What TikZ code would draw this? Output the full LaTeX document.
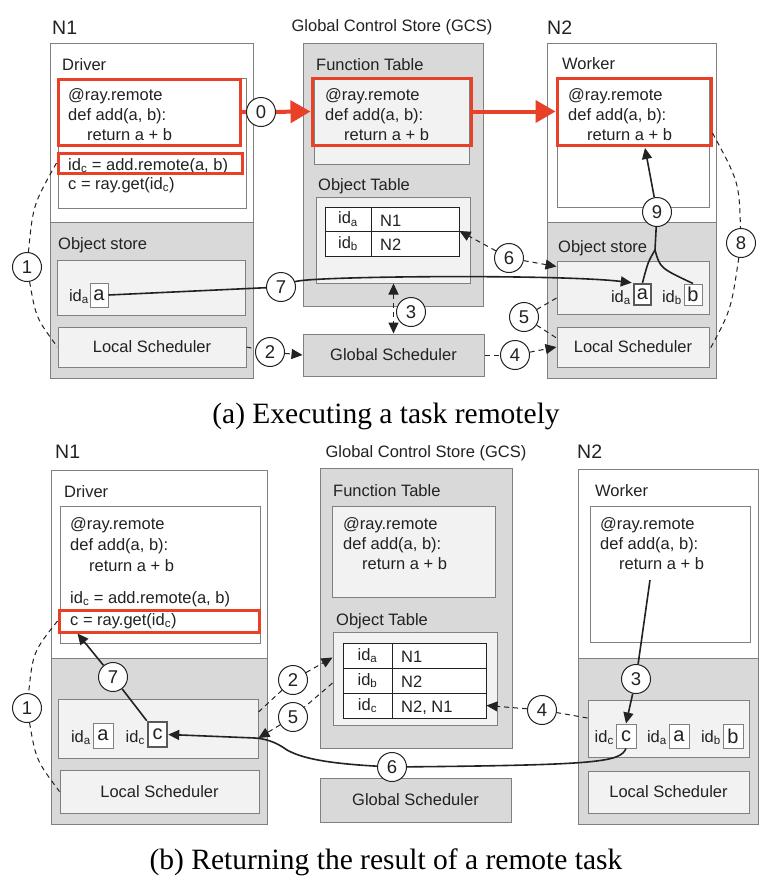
\documentclass[tikz,border=0pt]{standalone}
\usepackage{fontspec}
\setmainfont{Liberation Sans}
\newfontfamily\captionserif{Liberation Serif}
\usetikzlibrary{arrows.meta,fit}
\definecolor{rayred}{RGB}{232,65,40}
\definecolor{edgegray}{RGB}{128,128,128}
\definecolor{storegray}{RGB}{217,217,217}
\definecolor{panegray}{RGB}{242,242,242}
\definecolor{inkgray}{RGB}{34,34,34}

\begin{document}
\begin{tikzpicture}[x=1pt, y=-1pt,
    hostbox/.style={draw=edgegray, line width=1pt, fill=white, inner sep=0pt},
    storebox/.style={hostbox, fill=storegray},
    panebox/.style={hostbox, fill=panegray},
    redbox/.style={draw=rayred, line width=3pt, inner sep=0pt},
    lbl/.style={anchor=base west, inner sep=0pt, font=\fontsize{16.5}{20}\selectfont, text=inkgray},
    boxtext/.style={inner sep=0pt, font=\fontsize{16.5}{20}\selectfont, text=inkgray},
    valtext/.style={inner sep=0pt, font=\fontsize{20}{20}\selectfont, text=inkgray},
    nodename/.style={lbl, font=\fontsize{19.5}{20}\selectfont},
    cell/.style={draw=inkgray, line width=1pt, fill=white, inner sep=0pt},
    objval/.style={draw=edgegray, line width=1pt, fill=white, inner sep=0pt},
    objhot/.style={objval, draw=black!65, line width=2.5pt},
    stepnum/.style={circle, draw=inkgray, line width=1pt, fill=white, minimum size=29pt, inner sep=0pt, font=\fontsize{18.5}{18}\selectfont, text=inkgray},
    flow/.style={draw=inkgray, line width=1.6pt},
    ctrl/.style={draw=inkgray, line width=1pt, dash pattern=on 5pt off 4pt},
    arrowhd/.style={-{Triangle[length=11pt,width=10pt]}},
    bothhd/.style={{Triangle[length=11pt,width=10pt]}-{Triangle[length=11pt,width=10pt]}},
    redflow/.style={draw=rayred, line width=4pt},
    redhd/.style={-{Triangle[length=20pt,width=22pt]}},
    capt/.style={anchor=base, inner sep=0pt, font=\captionserif\fontsize{29.5}{30}\selectfont}
  ]
  \fill[white] (0,0) rectangle (773,894);
  \useasboundingbox (0,0) rectangle (773,894);

  % ---------------- (a) Executing a task remotely ----------------
  % node N1
  \node[nodename] (a-n1-name) at (52,34) {N1};
  \node[hostbox, fit={(50,43) (253,378)}] (a-n1) {};
  \node[storebox, fit={(50,222) (253,378)}] (a-n1-low) {};
  \node[lbl] (a-drv-name) at (62,70) {Driver};
  \node[hostbox, fit={(58,78) (246,208)}] (a-drv) {};
  \node[lbl] (a-os1-name) at (58,249) {Object store};
  \node[panebox, fit={(57,260) (245,315)}] (a-os1) {};
  \node[lbl, anchor=base east] (a-os1-ida) at (89,301) {id\textsubscript{a}};
  \node[objval, fit={(90,283) (108,307)}] (a-os1-a) {};
  \node[valtext] (a-os1-a-txt) at (a-os1-a) {a};
  \node[panebox, fit={(58,327) (246,367)}] (a-ls1) {};
  \node[boxtext] (a-ls1-txt) at (a-ls1) {Local Scheduler};

  % global control store
  \node[lbl, anchor=base] (a-gcs-name) at (392,31) {Global Control Store (GCS)};
  \node[storebox, fit={(303,43) (483,306)}] (a-gcs) {};
  \node[lbl] (a-ft-name) at (316,70) {Function Table};
  \node[panebox, fit={(314,78) (469,164)}] (a-ft) {};
  \node[lbl] (a-ot-name) at (318,190) {Object Table};
  \node[panebox, fit={(316,197) (470,283)}] (a-ot) {};
  \foreach \id/\host [count=\r] in {a/N1, b/N2} {
      \node[cell, fit={(325,{182.5+24.5*\r}) (371,{207+24.5*\r})}] (a-ot-\r-id) {};
      \node[boxtext] (a-ot-\r-idtxt) at (a-ot-\r-id) {id\textsubscript{\id}};
      \node[cell, fit={(371,{182.5+24.5*\r}) (459,{207+24.5*\r})}] (a-ot-\r-host) {};
      \node[lbl] (a-ot-\r-txt) at (380,{201.5+24.5*\r}) {\host};
  }
  \node[storebox, fit={(303,334) (484,376)}] (a-gs) {};
  \node[boxtext] (a-gs-txt) at (a-gs) {Global Scheduler};

  % node N2
  \node[nodename] (a-n2-name) at (547,34) {N2};
  \node[hostbox, fit={(547,43) (716,378)}] (a-n2) {};
  \node[storebox, fit={(547,222) (716,378)}] (a-n2-low) {};
  \node[lbl] (a-wrk-name) at (562,69) {Worker};
  \node[hostbox, fit={(557,78) (709,207)}] (a-wrk) {};
  \node[lbl] (a-os2-name) at (558,252) {Object store};
  \node[panebox, fit={(557,261) (709,314)}] (a-os2) {};
  \node[lbl, anchor=base east] (a-os2-ida) at (631,302) {id\textsubscript{a}};
  \node[objhot, fit={(634,284) (651,305)}] (a-os2-a) {};
  \node[valtext] (a-os2-a-txt) at (a-os2-a) {a};
  \node[lbl, anchor=base east] (a-os2-idb) at (682,302) {id\textsubscript{b}};
  \node[objval, fit={(684,284) (702,305)}] (a-os2-b) {};
  \node[valtext] (a-os2-b-txt) at (a-os2-b) {b};
  \node[panebox, fit={(557,327) (709,367)}] (a-ls2) {};
  \node[boxtext] (a-ls2-txt) at (a-ls2) {Local Scheduler};

  % ---------------- (b) Returning the result ----------------
  % node N1
  \node[nodename] (b-n1-name) at (55,458) {N1};
  \node[hostbox, fit={(51,470) (267,824)}] (b-n1) {};
  \node[storebox, fit={(51,658) (267,824)}] (b-n1-low) {};
  \node[lbl] (b-drv-name) at (64,497) {Driver};
  \node[hostbox, fit={(60,506) (260,643)}] (b-drv) {};
  \node[panebox, fit={(58,699) (258,758)}] (b-os1) {};
  \node[lbl, anchor=base east] (b-os1-ida) at (91,742) {id\textsubscript{a}};
  \node[objval, fit={(93,723) (113,748)}] (b-os1-a) {};
  \node[valtext] (b-os1-a-txt) at (b-os1-a) {a};
  \node[lbl, anchor=base east] (b-os1-idc) at (145,742) {id\textsubscript{c}};
  \node[objhot, fit={(148,722) (167,747)}] (b-os1-c) {};
  \node[valtext] (b-os1-c-txt) at (b-os1-c) {c};
  \node[panebox, fit={(60,770) (259,813)}] (b-ls1) {};
  \node[boxtext] (b-ls1-txt) at (b-ls1) {Local Scheduler};

  % global control store
  \node[lbl, anchor=base] (b-gcs-name) at (426,457) {Global Control Store (GCS)};
  \node[storebox, fit={(320,468) (512,748)}] (b-gcs) {};
  \node[lbl] (b-ft-name) at (333,496) {Function Table};
  \node[panebox, fit={(332,506) (495,597)}] (b-ft) {};
  \node[lbl] (b-ot-name) at (336,625) {Object Table};
  \node[panebox, fit={(333,632) (497,725)}] (b-ot) {};
  \foreach \id/\host [count=\r] in {a/N1, b/N2, c/{N2, N1}} {
      \node[cell, fit={(343,{618+25*\r}) (392,{643+25*\r})}] (b-ot-\r-id) {};
      \node[boxtext] (b-ot-\r-idtxt) at (b-ot-\r-id) {id\textsubscript{\id}};
      \node[cell, fit={(392,{618+25*\r}) (486,{643+25*\r})}] (b-ot-\r-host) {};
      \node[lbl] (b-ot-\r-txt) at (401,{637+25*\r}) {\host};
  }
  \node[storebox, fit={(320,778) (511,822)}] (b-gs) {};
  \node[boxtext] (b-gs-txt) at (b-gs) {Global Scheduler};

  % node N2
  \node[nodename] (b-n2-name) at (577,458) {N2};
  \node[hostbox, fit={(578,469) (758,824)}] (b-n2) {};
  \node[storebox, fit={(578,658) (758,824)}] (b-n2-low) {};
  \node[lbl] (b-wrk-name) at (595,496) {Worker};
  \node[hostbox, fit={(590,506) (750,642)}] (b-wrk) {};
  \node[panebox, fit={(588,700) (749,757)}] (b-os2) {};
  \node[lbl, anchor=base east] (b-os2-idc) at (614,742) {id\textsubscript{c}};
  \node[objval, fit={(616,724) (636,748)}] (b-os2-c) {};
  \node[valtext] (b-os2-c-txt) at (b-os2-c) {c};
  \node[lbl, anchor=base east] (b-os2-ida) at (667,742) {id\textsubscript{a}};
  \node[objval, fit={(669,724) (689,748)}] (b-os2-a) {};
  \node[valtext] (b-os2-a-txt) at (b-os2-a) {a};
  \node[lbl, anchor=base east] (b-os2-idb) at (721,742) {id\textsubscript{b}};
  \node[objval, fit={(723,724) (743,748)}] (b-os2-b) {};
  \node[valtext] (b-os2-b-txt) at (b-os2-b) {b};
  \node[panebox, fit={(588,771) (749,813)}] (b-ls2) {};
  \node[boxtext] (b-ls2-txt) at (b-ls2) {Local Scheduler};

  % the add function, six times
  \foreach \cx/\cy/\gap [count=\k] in {68/100/20, 325/100/20, 568/100/20, 70/529/21, 343/529/20, 600/529/20} {
      \node[lbl] (code-\k-1) at (\cx,\cy) {@ray.remote};
      \node[lbl] (code-\k-2) at (\cx,{\cy+\gap}) {def add(a, b):};
      \node[lbl] (code-\k-3) at ({\cx+19},{\cy+2*\gap}) {return a + b};
  }
  \node[lbl] (a-idc) at (68,170) {id\textsubscript{c} = add.remote(a, b)};
  \node[lbl] (a-get) at (68,189) {c = ray.get(id\textsubscript{c})};
  \node[lbl] (b-idc) at (70,603) {id\textsubscript{c} = add.remote(a, b)};
  \node[lbl] (b-get) at (70,625) {c = ray.get(id\textsubscript{c})};

  % highlighted code
  \node[redbox, fit={(58,79) (240,145)}] (red-drv) {};
  \node[redbox, fit={(58,153) (242,173)}] (red-idc) {};
  \node[redbox, fit={(312,78) (471,145)}] (red-ft) {};
  \node[redbox, fit={(557,78) (711,145)}] (red-wrk) {};
  \node[redbox, fit={(59,610) (259,632)}] (red-get) {};

  % step numbers
  \foreach \s/\px/\py in {0/261/112, 1/27/267, 2/270/352, 3/411/312, 4/515/355,
                          5/524/317, 6/509/258, 7/281/287, 8/741/243, 9/657/212}
      \node[stepnum] (a-s\s) at (\px,\py) {\s};
  \foreach \s/\px/\py in {1/27/708, 2/293/680, 3/636/679, 4/542/710,
                          5/293/717, 6/392/767, 7/113/677}
      \node[stepnum] (b-s\s) at (\px,\py) {\s};
  \coordinate (a-j9) at (655,250);
  \coordinate (a-w9) at (645,148);
  \coordinate (b-w3) at (650,580);

  % connectors (a)
  \draw[redflow] (red-drv.east) -- (a-s0);
  \draw[redflow, redhd] (a-s0) -- (red-ft.west);
  \draw[redflow, redhd] (red-ft.east) -- (red-wrk.west);
  \draw[ctrl] (red-idc.west) .. controls (33,205) .. (a-s1);
  \draw[ctrl] (a-s1) .. controls (36,318) .. (a-ls1.west);
  \draw[ctrl] (a-ls1.east) -- (a-s2);
  \draw[ctrl, arrowhd] (a-s2) -- (a-gs.west);
  \draw[ctrl, bothhd] (a-ot.south -| a-gs.north) -- (a-gs.north);
  \draw[ctrl] (a-gs.east) -- (a-s4);
  \draw[ctrl, arrowhd] (a-s4) -- (a-ls2.west);
  \draw[ctrl] ([yshift=-10.5pt]a-os2.west) -- (a-s5);
  \draw[ctrl] (a-s5) -- ([yshift=9pt]a-ls2.west);
  \draw[ctrl, arrowhd] (a-s6) -- (a-ot-2-host.north east);
  \draw[ctrl, arrowhd] (a-s6) -- ([yshift=-6pt]a-os2.north west);
  \draw[flow] (a-os1-a.east) -- (a-s7);
  \draw[flow, arrowhd] (a-s7) .. controls (310,276) and (560,274) .. ([xshift=-1pt]a-os2-a.north west);
  \draw[ctrl] ([yshift=-21.5pt]red-wrk.east) .. controls (739,182) .. (a-s8);
  \draw[ctrl] (a-s8) .. controls (731,310) .. ([yshift=-3pt]a-ls2.east);
  \draw[flow] (a-os2-a.north) .. controls (648,262) .. (a-j9) -- (a-s9);
  \draw[flow] (a-os2-b.north) .. controls (660,268) .. (a-j9);
  \draw[flow, arrowhd] (a-s9) -- (a-w9);

  % connectors (b)
  \draw[ctrl] (red-get.west) .. controls (33,652) .. (b-s1);
  \draw[ctrl] (b-s1) .. controls (36,760) .. (b-ls1.west);
  \draw[flow] (b-os1-c.north west) -- (b-s7);
  \draw[flow, arrowhd] (b-s7) -- ([xshift=20pt]red-get.south west);
  \draw[ctrl] ([yshift=16.5pt]b-os1.east) -- (b-s2);
  \draw[ctrl, arrowhd] (b-s2) -- ([yshift=21pt]b-ot.west);
  \draw[ctrl] ([yshift=-4.5pt]b-ot.west) -- (b-s5);
  \draw[ctrl, arrowhd] (b-s5) -- ([yshift=-9.5pt]b-os1.east);
  \draw[flow] (b-w3) -- (b-s3);
  \draw[flow, arrowhd] (b-s3) -- (b-os2-c.north);
  \draw[ctrl] ([yshift=10.5pt]b-os2.west) -- (b-s4);
  \draw[ctrl, arrowhd] (b-s4) -- (b-ot-3-host.east);
  \draw[flow] (b-os2-c.south) .. controls (620,762) and (600,765) .. (b-s6);
  \draw[flow, arrowhd] (b-s6) .. controls (320,763) and (300,757) .. (287,750)
      .. controls (280,745) and (270,739) .. (255,738) -- (b-os1-c.east);

  % captions
  \node[capt] (a-caption) at (386,423) {(a) Executing a task remotely};
  \node[capt] (b-caption) at (386,869) {(b) Returning the result of a remote task};
\end{tikzpicture}
\end{document}
